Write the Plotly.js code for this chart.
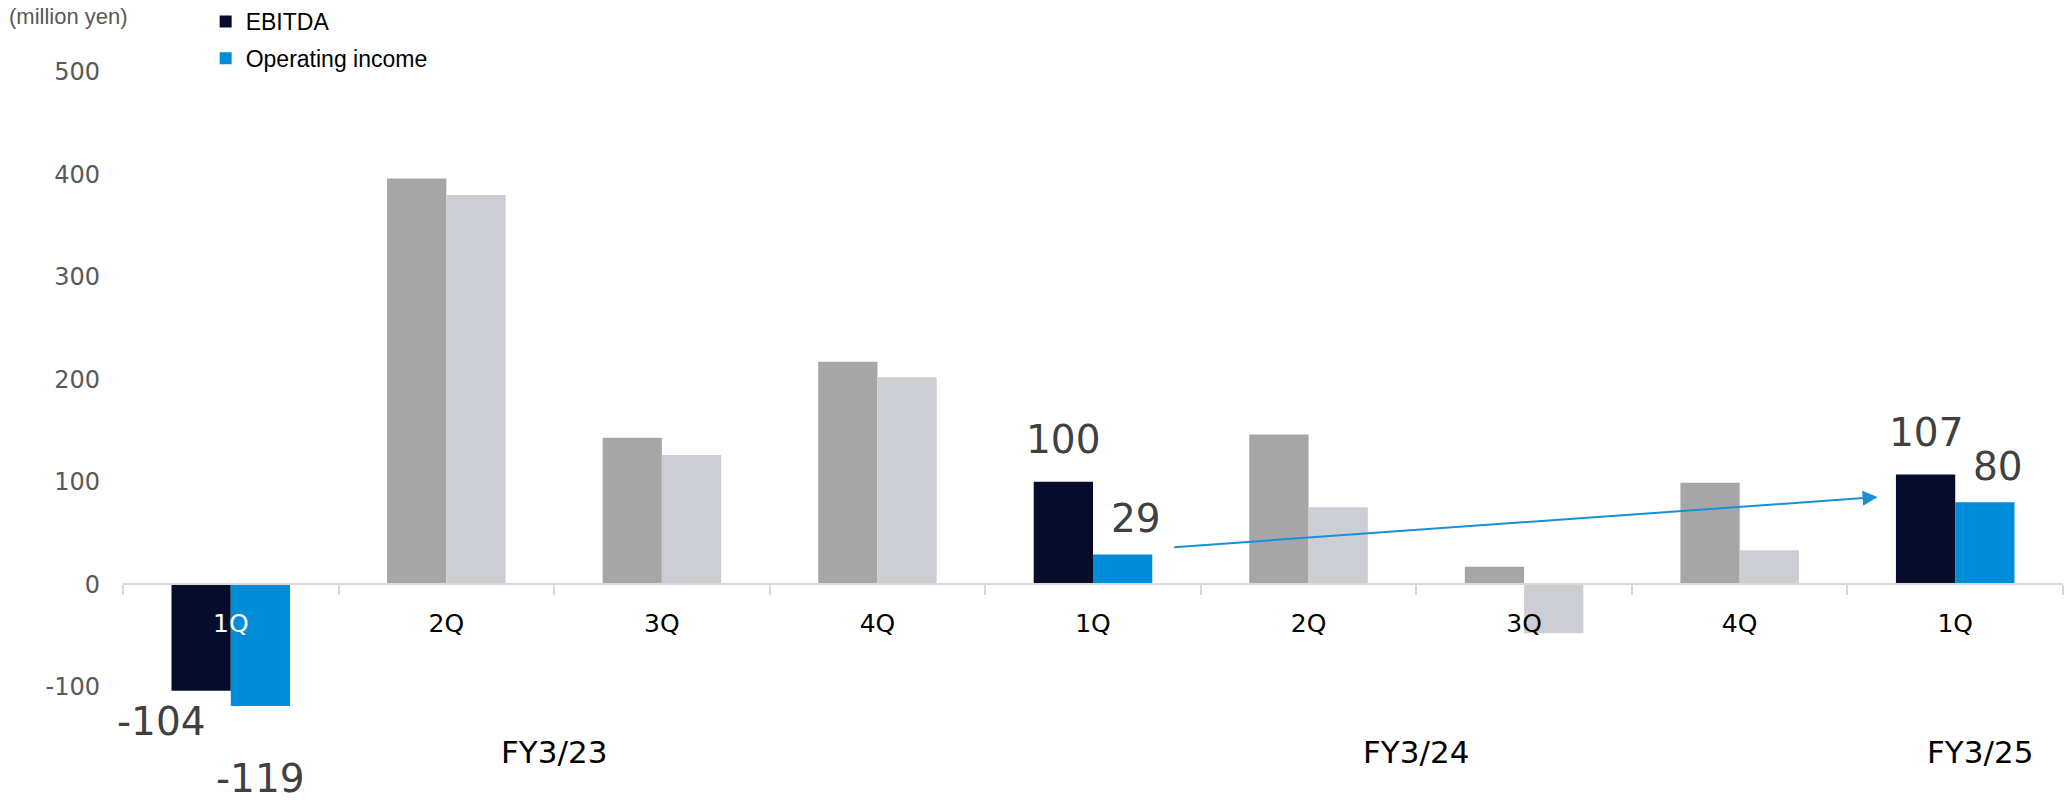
<!DOCTYPE html>
<html>
<head>
<meta charset="utf-8">
<script src="https://cdn.plot.ly/plotly-3.0.1.min.js"></script>
<style>
  html, body { margin: 0; padding: 0; background: #fff; }
  #chart { width: 2067px; height: 803px; }
</style>
</head>
<body>
<div id="chart"></div>
<script>
// ---- data ----
const fiscalYears = ['FY3/23', 'FY3/23', 'FY3/23', 'FY3/23', 'FY3/24', 'FY3/24', 'FY3/24', 'FY3/24', 'FY3/25'];
const quarters = ['1Q', '2Q', '3Q', '4Q', '1Q', '2Q', '3Q', '4Q', '1Q'];
const ebitda = [-104, 396, 143, 217, 100, 146, 17, 99, 107];
const operatingIncome = [-119, 380, 126, 202, 29, 75, -48, 33, 80];
const yTickValues = [-200, -100, 0, 100, 200, 300, 400, 500];
const seriesNames = ['EBITDA', 'Operating income'];
const unitLabel = '(million yen)';
const highlightQuarter = '1Q';

// ---- styles ----
const yRange = [-200, 500];
const colors = {
  ebitda: '#050C2C', ebitdaMuted: '#A6A6A6',
  oi: '#008CD6', oiMuted: '#CDCED3',
  axis: '#D9D9D9', tickText: '#595959', label: '#404040', arrow: '#1890D8'
};
const bargap = 0.45;
const barHalf = (1 - bargap) / 4; // centre offset of each bar in category units
// label offsets (px) for the highlighted bars: [dx, dy]
const labelOffsets = {
  ebitda: { pos: [0, 18], neg: [-40, -6] },
  oi: { pos: [13, 11], neg: [0, -48] }
};
const fyShift = { 'FY3/25': 25 };

const cats = fiscalYears.map((fy, i) => fy + ' ' + quarters[i]);
const isHi = quarters.map(q => q === highlightQuarter);

const traces = [
  {
    type: 'bar', name: seriesNames[0], x: cats, y: ebitda,
    marker: { color: isHi.map(h => h ? colors.ebitda : colors.ebitdaMuted) },
    legendgroup: 'a', hoverinfo: 'skip'
  },
  {
    type: 'bar', name: seriesNames[1], x: cats, y: operatingIncome,
    marker: { color: isHi.map(h => h ? colors.oi : colors.oiMuted) },
    legendgroup: 'b', hoverinfo: 'skip'
  }
];

const annotations = [];
// data labels on highlighted bars
[[ebitda, -1, labelOffsets.ebitda], [operatingIncome, 1, labelOffsets.oi]].forEach(([vals, side, off]) => {
  vals.forEach((v, i) => {
    if (!isHi[i]) return;
    const o = v >= 0 ? off.pos : off.neg;
    annotations.push({
      x: i + side * barHalf, y: v, xref: 'x', yref: 'y',
      text: String(v), showarrow: false,
      xanchor: 'center', yanchor: v >= 0 ? 'bottom' : 'top',
      xshift: o[0], yshift: o[1],
      font: { family: 'DejaVu Sans', size: 39, color: colors.label }
    });
  });
});
// fiscal-year group labels
[...new Set(fiscalYears)].forEach(fy => {
  const idx = fiscalYears.map((f, i) => f === fy ? i : -1).filter(i => i >= 0);
  const mid = idx.reduce((a, b) => a + b, 0) / idx.length;
  annotations.push({
    x: mid, y: yRange[0], xref: 'x', yref: 'y', text: fy, showarrow: false,
    xanchor: 'center', yanchor: 'middle', yshift: 37, xshift: fyShift[fy] || 0,
    font: { family: 'DejaVu Sans', size: 31, color: '#000' }
  });
});
// unit label
annotations.push({
  x: -0.0598, y: 1.078, xref: 'paper', yref: 'paper', text: unitLabel,
  showarrow: false, xanchor: 'left', yanchor: 'middle',
  font: { family: 'Liberation Sans', size: 22, color: colors.tickText }
});
// trend arrow from FY3/24 1Q to FY3/25 1Q
const iFrom = 4, iTo = 8;
annotations.push({
  x: iTo - 0.36, y: 85, ax: iFrom + 0.37, ay: 36,
  xref: 'x', yref: 'y', axref: 'x', ayref: 'y',
  text: '', showarrow: true, arrowhead: 2, arrowsize: 1.5, arrowwidth: 2,
  arrowcolor: colors.arrow, standoff: 0
});

const ticktext = quarters.map((q, i) => ebitda[i] < 0 ? '<span style="color:#ffffff">' + q + '</span>' : q);

const layout = {
  width: 2067, height: 803,
  margin: { l: 123, r: 4, t: 72, b: 14, autoexpand: false },
  paper_bgcolor: '#fff', plot_bgcolor: '#fff',
  barmode: 'group', bargap: bargap, bargroupgap: 0,
  showlegend: true,
  legend: {
    xref: 'container', yref: 'container', x: 0.0995, y: 1.0,
    xanchor: 'left', yanchor: 'top', orientation: 'v',
    traceorder: 'grouped', tracegroupgap: 4,
    font: { family: 'Liberation Sans', size: 23, color: '#000' },
    bgcolor: 'rgba(0,0,0,0)'
  },
  xaxis: {
    type: 'category', range: [-0.5, cats.length - 0.5],
    anchor: 'free', position: (0 - yRange[0]) / (yRange[1] - yRange[0]),
    showline: true, linecolor: colors.axis, linewidth: 2,
    ticks: 'outside', tickson: 'boundaries', ticklen: 10, tickwidth: 2, tickcolor: colors.axis,
    tickmode: 'array', tickvals: cats, ticktext: ticktext,
    tickfont: { family: 'DejaVu Sans', size: 25, color: '#000' },
    ticklabelstandoff: 17, automargin: false,
    showgrid: false, zeroline: false, fixedrange: true
  },
  yaxis: {
    range: yRange, tickmode: 'array', tickvals: yTickValues,
    ticktext: yTickValues.map(v => String(v)),
    showgrid: false, zeroline: false, showline: false, ticks: '',
    tickfont: { family: 'DejaVu Sans', size: 24, color: colors.tickText },
    ticklabelstandoff: 22, automargin: false, fixedrange: true
  },
  annotations: annotations
};

Plotly.newPlot('chart', traces, layout, { staticPlot: true, displayModeBar: false });
</script>
</body>
</html>
